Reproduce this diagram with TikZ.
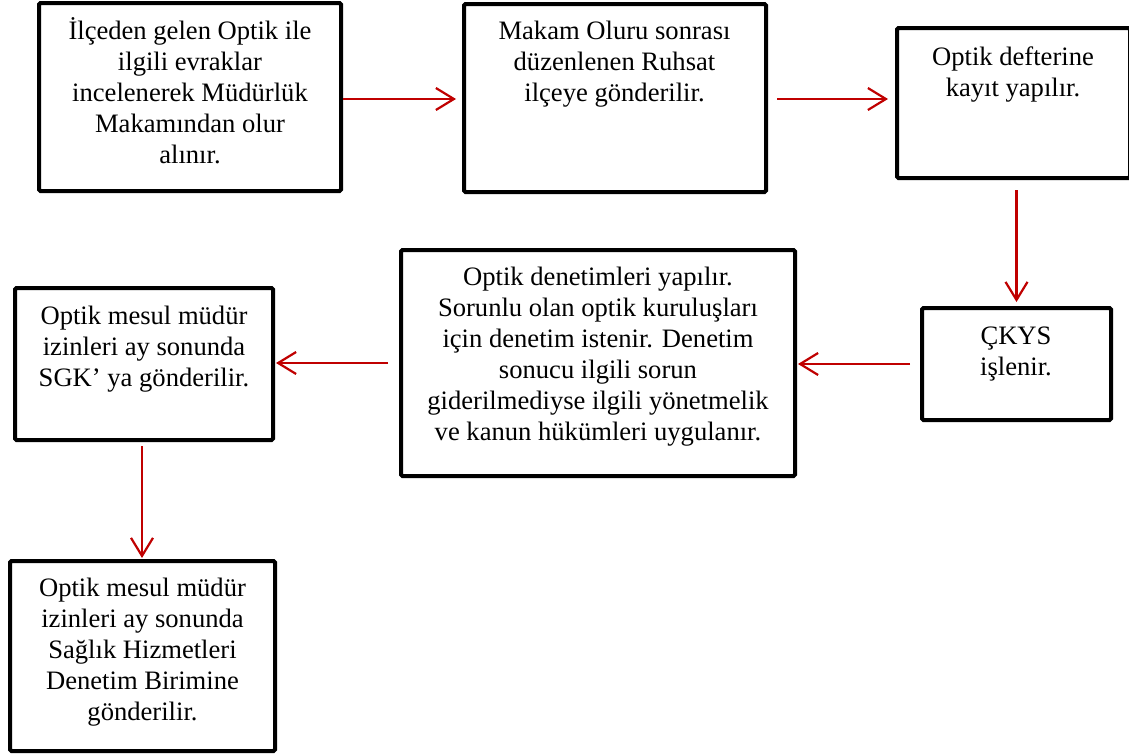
\documentclass[tikz,border=0pt]{standalone}
\usepackage{fontspec}
\setmainfont{Liberation Serif}
\usetikzlibrary{arrows.meta}
\definecolor{flowred}{HTML}{C00000}
\begin{document}
\begin{tikzpicture}[x=1pt,y=-1pt,
  box/.style={draw=black, line width=4pt, rounded corners=1.5pt, fill=white, inner sep=0pt},
  % the base anchor of a multi-line node sits on its last line
  txt/.style={anchor=base, align=center, inner sep=0pt, font=\fontsize{26.6}{31}\selectfont},
  flow/.style={draw=flowred, line width=2.2pt, -{Straight Barb[length=18pt,width=22pt]}}]
\path[use as bounding box, clip] (0,0) rectangle (1129,755);
\fill[white] (0,0) rectangle (1129,755);

% process boxes
\node[box, minimum width=302pt, minimum height=188pt] (b1)  at (190,97)    {};
\node[box, minimum width=302pt, minimum height=188pt] (b2)  at (615,98)    {};
\node[box, minimum width=233pt, minimum height=150pt] (b3)  at (1013.5,103) {};
\node[box, minimum width=189pt, minimum height=112pt] (cky) at (1016.5,364) {};
\node[box, minimum width=394pt, minimum height=226pt] (mid) at (598,363)   {};
\node[box, minimum width=258pt, minimum height=152pt] (lft) at (144,364)   {};
\node[box, minimum width=265pt, minimum height=190pt] (bot) at (142.5,656) {};

% box texts (positions give the last baseline)
\node[txt] (t1) at (190,163) {İlçeden gelen Optik ile\\ilgili evraklar\\incelenerek Müdürlük\\Makamından olur\\alınır.};
\node[txt] (t2) at (614.5,101) {Makam Oluru sonrası\\düzenlenen Ruhsat\\ilçeye gönderilir.};
\node[txt] (t3) at (1013,96) {Optik defterine\\kayıt yapılır.};
\node[txt] (t4) at (1016,375) {ÇKYS\\işlenir.};
\node[txt] (t5) at (598,440) {Optik denetimleri yapılır.\\Sorunlu olan optik kuruluşları\\için denetim istenir. Denetim\\sonucu ilgili sorun\\giderilmediyse ilgili yönetmelik\\ve kanun hükümleri uygulanır.};
\node[txt] (t6) at (144,386) {Optik mesul müdür\\izinleri ay sonunda\\SGK’ ya gönderilir.};
\node[txt] (t7) at (142.5,720) {Optik mesul müdür\\izinleri ay sonunda\\Sağlık Hizmetleri\\Denetim Birimine\\gönderilir.};

% connectors
\draw[flow, shorten >=6pt] ([yshift=-2pt]b1.east) -- ([yshift=-2pt]b1.east -| b2.west);
\draw[flow, shorten <=9pt, shorten >=7pt] ([yshift=-1pt]b2.east) -- ([yshift=-1pt]b2.east -| b3.west);
\draw[flow, shorten <=10pt, shorten >=4pt] (b3.south -| cky.north) -- (cky.north);
\draw[flow, shorten <=10pt, shorten >=1pt] (cky.west) -- (cky.west -| mid.east);
\draw[flow, shorten <=11pt, shorten >=1pt] (mid.west) -- (mid.west -| lft.east);
\draw[flow, shorten <=4pt, shorten >=1pt] ([xshift=-2pt]lft.south) -- ([xshift=-2pt]lft.south |- bot.north);
\end{tikzpicture}
\end{document}
